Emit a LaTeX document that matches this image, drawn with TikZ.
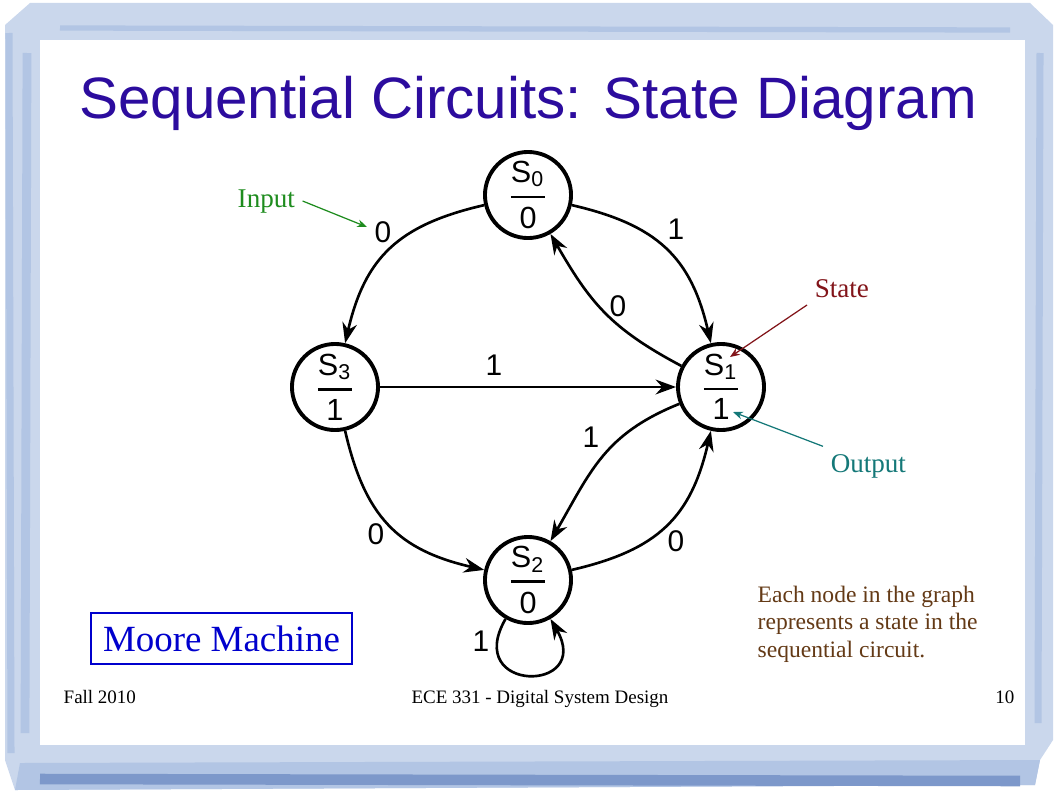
\documentclass[tikz,border=0pt]{standalone}
\usepackage{fontspec}
\usepackage{amsmath}
\setmainfont{Liberation Serif}
\setsansfont{Liberation Sans}
\usetikzlibrary{arrows.meta}
\definecolor{titleblue}{RGB}{44,12,158}
\definecolor{inputgreen}{RGB}{30,140,30}
\definecolor{statered}{RGB}{130,20,25}
\definecolor{outputteal}{RGB}{20,120,120}
\definecolor{notebrown}{RGB}{100,58,22}
\definecolor{mooreblue}{RGB}{0,0,205}
\definecolor{framelight}{RGB}{202,215,236}
\definecolor{framemid}{RGB}{178,197,228}
\definecolor{framedark}{RGB}{125,152,202}
\newcommand{\statetext}[2]{$\genfrac{}{}{0.8pt}{0}{\mbox{S\textsubscript{#1}}}{\mbox{#2}}$}
\begin{document}
\begin{tikzpicture}[x=0.01cm, y=0.01cm,
    state/.style={circle, draw, line width=1.1pt, minimum size=0.86cm, inner sep=0pt,
      font=\sffamily\fontsize{8.7}{10}\selectfont},
    trans/.style={line width=0.75pt, -{Stealth[length=5.8pt,width=4.2pt]}},
    outer/.style={trans, looseness=1.15},
    inner/.style={trans, looseness=1.1},
    lbl/.style={inner sep=0pt, font=\sffamily\fontsize{8.5}{10}\selectfont},
    note/.style={anchor=base west, inner sep=2pt, font=\fontsize{7.7}{9}\selectfont},
    pointer/.style={line width=0.35pt, -{Stealth[length=2.8pt,width=2.2pt]}},
    foot/.style={anchor=base, inner sep=0pt, font=\fontsize{5.4}{6}\selectfont}]
    \useasboundingbox (0,0) rectangle (1058,793);
    \fill[framelight] (30,790) -- (1030,790) -- (1053,768) -- (1053,53) -- (1040,33)
      -- (1035,8) -- (15,3) -- (5,33) -- (5,768) -- cycle;
    \fill[framemid] (15,3) -- (1035,8) -- (1040,33) -- (20,30) -- cycle;
    \draw[framedark, line width=3pt] (40,14) -- (1020,12) ;
    \draw[framemid, line width=2pt] (11,40) -- (9,760) ;
    \draw[framemid, line width=2.5pt] (25,60) -- (27,740) ;
    \draw[framemid, line width=2pt] (1040,740) -- (1038,70) ;
    \draw[framemid, line width=1.5pt] (60,765) -- (1010,763) ;
    \fill[white] (40,48) rectangle (1025,753) ;
    \node[anchor=base, inner sep=0pt, text=titleblue, font=\sffamily\fontsize{16.6}{20}\selectfont]
      (title) at (528,675) {Sequential Circuits: State Diagram};
    \node[state] (s0) at (528,598) {\statetext{0}{0}};
    \node[state] (s1) at (721,406) {\statetext{1}{1}};
    \node[state] (s2) at (528,213) {\statetext{2}{0}};
    \node[state] (s3) at (335,406) {\statetext{3}{1}};
    \draw[outer] (s0) to[out=193, in=77] (s3) ;
    \draw[outer] (s0) to[out=-13, in=103] (s1) ;
    \draw[outer] (s3) to[out=283, in=167] (s2) ;
    \draw[outer] (s2) to[out=13, in=257] (s1) ;
    \draw[inner] (s1) to[out=152, in=300] (s0) ;
    \draw[trans] (s3) -- (s1) ;
    \draw[inner] (s1) to[out=202, in=60] (s2) ;
    \draw[trans] (s2.240) .. controls +(240:0.86cm) and +(300:0.86cm) .. (s2.300) ;
    \node[lbl] (l03) at (383,561) {0};
    \node[lbl] (l01) at (676,564) {1};
    \node[lbl] (l10) at (618,487) {0};
    \node[lbl] (l31) at (494,428) {1};
    \node[lbl] (l12) at (591,356) {1};
    \node[lbl] (l32) at (376,259) {0};
    \node[lbl] (l21) at (676,252) {0};
    \node[lbl] (l22) at (481,152) {1};
    \node[note, text=inputgreen] (inputlbl) at (230,586) {Input};
    \coordinate (inputtip) at (367,566) ;
    \draw[pointer, inputgreen] (inputlbl.east) -- (inputtip) ;
    \node[note, text=statered] (statelbl) at (807,496) {State};
    \coordinate (statetip) at (730,436) ;
    \draw[pointer, statered] (statelbl.south west) -- (statetip) ;
    \node[note, text=outputteal] (outputlbl) at (823,321) {Output};
    \coordinate (outputtip) at (733,381) ;
    \draw[pointer, outputteal] (outputlbl.north west) -- (outputtip) ;
    \node[anchor=base west, inner sep=0pt, align=left, text=notebrown,
      font=\fontsize{6.7}{7.7}\selectfont] (notes) at (757,136)
      {Each node in the graph\\represents a state in the\\sequential circuit.};
    \node[draw=mooreblue, line width=0.5pt, text=mooreblue, minimum width=2.59cm,
      minimum height=0.51cm, font=\fontsize{10.5}{12}\selectfont] (moore) at (221.5,154.5)
      {Moore Machine};
    \node[foot, anchor=base west] (term) at (63,90) {Fall 2010};
    \node[foot] (course) at (540,90) {ECE 331 - Digital System Design};
    \node[foot, anchor=base east] (page) at (1015,90) {10};
  \end{tikzpicture}
\end{document}
